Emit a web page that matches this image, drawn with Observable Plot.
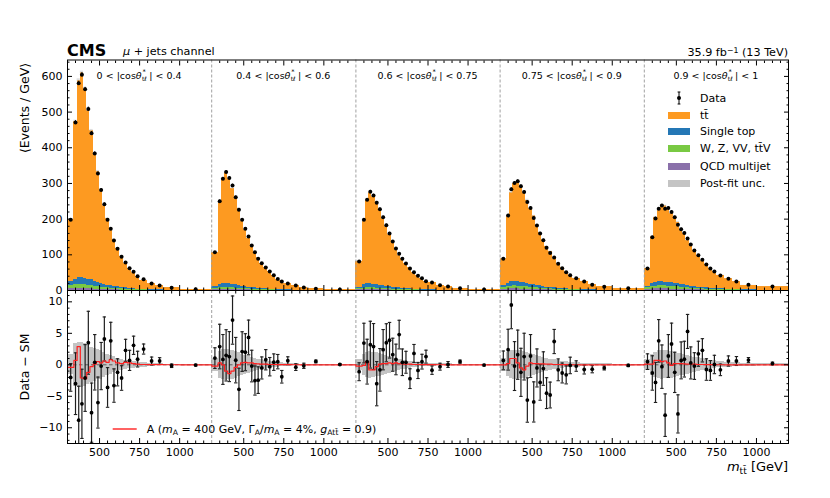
<!DOCTYPE html>
<html><head><meta charset="utf-8">
<script src="https://cdn.jsdelivr.net/npm/d3@7"></script>
<script src="https://cdn.jsdelivr.net/npm/@observablehq/plot@0.6"></script>
<style>
body{margin:0;background:#fff;}
#fig{position:relative;width:830px;height:498px;font-family:"DejaVu Sans",sans-serif;color:#000;overflow:hidden;}
#fig svg{position:absolute;left:0;}
.t{position:absolute;white-space:nowrap;line-height:1;}
.sb{font-size:0.7em;position:relative;top:0.3em;}
.sp{font-size:0.7em;position:relative;top:-0.45em;}
.st{position:relative;display:inline-block;width:0.8em;height:1em;vertical-align:top;}
.st .a{position:absolute;left:0.9px;top:-1.6px;font-size:6.6px;line-height:1;}
.st .b{position:absolute;left:0.3px;top:5.4px;font-size:6px;line-height:1;}
</style></head><body><div id="fig"></div>
<script>
// ---------- data (events / GeV), five |cos theta*| blocks, common m_tt binning ----------
const binEdges = [300,340,360,380,400,420,440,460,480,500,520,540,560,580,600,625,650,675,700,725,750,800,850,900,1000,1200];
const blockLabels = ["0 &lt; ", "0.4 &lt; ", "0.6 &lt; ", "0.75 &lt; ", "0.9 &lt; "];
const blockUpper = [" &lt; 0.4", " &lt; 0.6", " &lt; 0.75", " &lt; 0.9", " &lt; 1"];
const xTickValues = [500, 750, 1000];

const dataObs = [
 [198,471,581,605,564,509,441,384,328,282,242,198,173,140,117,94.5,78.5,62.5,52.4,40,31.7,19.6,14,7.6,3.6],
 [107,250,313,332,315,294,261,226,198,173,151,126,107,89,76.5,64.5,53,43,32.5,25,19.6,14,8.4,4.8,2.8],
 [81,198,254,277,266,246,228,205,183,160,137,118,103,89,76,62,51,41,34.5,26,22.4,15,11,6.5,2.8],
 [89,210,284,301,306,292,276,248,231,203,182,160,141,120,105,92.5,75,62.5,51,43,34.5,25,16,10.4,6.5],
 [62,149,202,229,238,229,231,220,205,184,172,161,146,129,112,99,86,73,62,53,42,33,25,16,11]
];
const ttbar = [
 [176,442,552.8,574.2,531.1,473.5,419.1,357.6,311.5,261.9,220.1,186.2,155.7,131.6,108.2,88,68.9,55.7,44.2,34.9,25.9,16.6,11.7,6.65,3.15],
 [95.4,230.6,292.7,311,295.2,269.8,244.8,216.1,183.7,160.1,137.2,117.9,102.3,85.2,71.7,59.1,49.4,39.3,29.3,24.6,17.3,13.1,7.7,3.7,2.5],
 [72.4,179.1,235.2,255.5,245.7,232.8,214,189.3,167.7,145.6,126.2,109,91.1,82.4,70.2,59.5,45.2,38.5,31.2,22.4,21.5,14,10,5.4,2.6],
 [74.8,186.6,249.5,275.4,279.2,269.5,252.8,233.6,211.5,192.7,168.2,150.1,130.5,114.8,101.4,81.6,69.6,58.6,48.3,39.4,31.9,23.6,15.2,9.9,6.2],
 [49,131.3,182.3,201,213.9,213.2,206.7,195,186,173.1,154.2,144.5,126.6,116.1,101,87.5,75.1,66.3,56.5,47.5,38.4,28.9,21.8,13.5,10]
];
const singleTop = [
 [11,16,20,20,19,17,16,14,12,11,9.5,8,7,6,5,4.3,3.6,3,2.5,2,1.6,1.1,0.8,0.5,0.2],
 [5,9,11,11,10.5,9.5,8.5,7.5,6.5,5.8,5,4.3,3.7,3.2,2.7,2.3,1.9,1.6,1.3,1.1,0.8,0.6,0.4,0.25,0.1],
 [4.5,8.5,10.5,10.5,10,9.2,8.3,7.4,6.5,5.8,5,4.4,3.8,3.3,2.8,2.4,2,1.7,1.4,1.15,0.9,0.65,0.45,0.28,0.12],
 [5.5,10,12.5,13,12.8,12,11,10,9,8,7,6.2,5.4,4.7,4,3.4,2.9,2.4,2,1.7,1.3,1,0.7,0.45,0.2],
 [4.5,8,10,11,11.2,11,10.6,10,9.3,8.6,7.9,7.2,6.5,5.8,5.1,4.5,3.9,3.4,2.9,2.5,2,1.6,1.2,0.8,0.4]
];
const ewk = [
 [8,10,11,11,10.5,10,9,8,7,6.3,5.6,5,4.4,3.9,3.4,2.9,2.5,2.1,1.8,1.5,1.2,0.9,0.6,0.4,0.2],
 [3.5,5,5.5,5.5,5.2,5,4.6,4.1,3.7,3.3,2.9,2.6,2.3,2,1.7,1.5,1.3,1.1,0.9,0.8,0.6,0.45,0.3,0.2,0.1],
 [3.2,4.5,5,5,4.8,4.6,4.3,3.9,3.5,3.1,2.8,2.5,2.2,1.9,1.7,1.5,1.3,1.1,0.9,0.8,0.6,0.45,0.32,0.2,0.1],
 [5,7,8,8.2,8,7.6,7.1,6.5,5.9,5.3,4.7,4.2,3.7,3.2,2.8,2.4,2.1,1.8,1.5,1.3,1,0.75,0.55,0.35,0.15],
 [5,7,8,8.5,8.5,8.3,8,7.6,7.1,6.6,6,5.5,5,4.5,4,3.5,3.1,2.7,2.3,2,1.6,1.3,1,0.65,0.3]
];
const qcd = [
 [5,6,6,6,5.5,5,4.5,4,3.5,3,2.7,2.4,2.1,1.8,1.6,1.4,1.2,1,0.8,0.7,0.5,0.4,0.3,0.2,0.1],
 [2,2.5,3,3,2.8,2.6,2.4,2.2,2,1.8,1.6,1.4,1.2,1,0.9,0.8,0.7,0.6,0.5,0.4,0.3,0.25,0.2,0.1,0.05],
 [2,2.5,2.8,2.8,2.6,2.4,2.2,2,1.8,1.6,1.4,1.3,1.1,1,0.9,0.8,0.7,0.6,0.5,0.4,0.3,0.25,0.2,0.1,0.05],
 [3,4,4.5,4.6,4.4,4.1,3.8,3.5,3.2,2.9,2.6,2.3,2,1.8,1.6,1.4,1.2,1,0.85,0.7,0.55,0.42,0.3,0.2,0.08],
 [3,4,4.5,4.7,4.7,4.5,4.3,4.1,3.8,3.5,3.2,2.9,2.6,2.3,2.1,1.8,1.6,1.4,1.2,1,0.8,0.6,0.45,0.3,0.15]
];
const dataMinusSM = [
 [-2.0,-3.0,-8.8,-6.2,-2.1,3.5,-7.6,0.4,-6.0,-0.2,4.1,-3.6,3.8,-3.3,-1.2,-2.1,2.3,0.7,3.1,0.9,2.5,0.6,0.6,-0.15,-0.05],
 [1.06,2.9,0.85,1.5,1.3,7.1,0.74,-3.9,2.1,2.0,4.35,-0.2,-2.5,-2.44,-0.5,0.8,-0.3,0.42,0.5,-1.9,0.64,-0.37,-0.16,0.53,0.05],
 [-1.1,3.45,0.5,3.2,2.9,-3.0,-0.8,2.4,3.5,3.9,1.6,0.85,4.8,0.4,0.4,-2.2,1.8,-0.9,0.5,1.3,-0.85,-0.3,0.05,0.5,-0.05],
 [0.7,2.4,9.5,-0.2,1.6,-1.2,1.3,-5.6,1.4,-5.9,-0.5,-2.8,-0.6,-4.5,-4.8,3.7,-0.8,-1.3,-1.6,-0.1,-0.2,-0.75,-0.7,-0.5,-0.1],
 [0.5,-1.3,-2.8,3.8,-0.3,-8.0,1.4,3.3,-1.2,-7.8,0.7,0.9,5.3,0.3,-0.2,1.75,2.3,-0.75,-0.9,0.05,-0.8,0.6,0.6,0.75,0.2]
];
const statErr = [
 [2.2,4.9,5.4,5.5,5.3,5.0,4.7,4.4,4.05,3.75,3.5,3.15,2.95,2.65,2.15,1.95,1.75,1.6,1.45,1.25,0.8,0.63,0.53,0.28,0.13],
 [1.64,3.54,3.96,4.07,3.97,3.83,3.61,3.36,3.15,2.94,2.75,2.51,2.31,2.11,1.75,1.61,1.46,1.31,1.14,1.0,0.63,0.53,0.41,0.22,0.12],
 [1.42,3.15,3.56,3.72,3.65,3.51,3.38,3.2,3.02,2.83,2.62,2.43,2.27,2.11,1.74,1.57,1.43,1.28,1.17,1.02,0.67,0.55,0.47,0.25,0.12],
 [1.49,3.24,3.77,3.88,3.91,3.82,3.71,3.52,3.4,3.19,3.02,2.83,2.66,2.45,2.05,1.92,1.73,1.58,1.43,1.31,0.83,0.71,0.57,0.32,0.18],
 [1.24,2.73,3.18,3.38,3.45,3.38,3.4,3.32,3.2,3.03,2.93,2.84,2.7,2.54,2.12,1.99,1.85,1.71,1.57,1.46,0.92,0.81,0.71,0.4,0.23]
];
const postFitUnc = [
 [1.6,3.4,3.6,3.6,3.4,3.1,2.8,2.6,2.4,2.3,2.0,1.7,1.5,1.3,1.05,0.9,0.75,0.65,0.55,0.45,0.35,0.25,0.18,0.1,0.05],
 [1.0,2.1,2.4,2.5,2.4,2.3,2.1,1.9,1.7,1.55,1.4,1.2,1.05,0.9,0.8,0.68,0.56,0.46,0.38,0.3,0.24,0.18,0.12,0.07,0.04],
 [0.9,1.7,2.0,2.1,2.0,1.9,1.8,1.65,1.5,1.35,1.2,1.05,0.92,0.8,0.7,0.58,0.48,0.4,0.34,0.27,0.23,0.17,0.13,0.08,0.04],
 [1.0,1.9,2.2,2.3,2.3,2.2,2.1,1.95,1.85,1.65,1.5,1.35,1.2,1.05,0.92,0.82,0.7,0.6,0.5,0.43,0.35,0.27,0.19,0.13,0.08],
 [0.9,1.7,2.0,2.2,2.3,2.2,2.2,2.1,2.0,1.85,1.75,1.65,1.5,1.35,1.2,1.08,0.95,0.82,0.72,0.62,0.5,0.4,0.32,0.2,0.13]
];
const signalA = [
 [-0.4,0.7,2.9,-2.1,-2.2,-1.2,-0.3,0.1,0.5,0.3,0.6,0.4,0.8,0.6,0.3,0.2,0.4,0.3,0.2,0.1,0.05,0.03,0.02,0.01,0],
 [-0.2,0.3,0.0,-1.0,-1.4,-1.0,-0.4,0.0,0.3,0.4,0.3,0.3,0.2,0.15,0.1,0.1,0.05,0.05,0.03,0.02,0.02,0.01,0,0,0],
 [-0.2,-0.1,0.5,-0.8,-0.8,-0.3,0.1,0.2,0.2,0.3,0.2,0.3,0.2,0.15,0.1,0.1,0.05,0.05,0.03,0.02,0.02,0.01,0,0,0],
 [0.0,0.2,1.0,1.0,0.3,-0.5,-0.8,-0.2,0.3,0.2,0.2,0.15,0.15,0.1,0.1,0.05,0.05,0.03,0.02,0.02,0.01,0,0,0,0],
 [0.1,0.1,0.7,0.7,0.5,0.6,0.3,-0.1,0.2,0.2,0.2,0.15,0.1,0.1,0.1,0.05,0.05,0.03,0.02,0.02,0.01,0,0,0,0]
];
const procNames = ["QCD multijet", "W, Z, VV, tt\u0304V", "Single top", "tt\u0304"];
const procColors = ["#8a70aa", "#79c943", "#2477b5", "#fd9a21"];

// ---------- build tables ----------
const span = 900; // each block spans 300..1200 GeV
const lo = binEdges[0];
const stackRows = [], bins = [], sigPts = [];
const comps = [qcd, ewk, singleTop, ttbar];
for (let b = 0; b < 5; b++) {
  for (let i = 0; i < binEdges.length - 1; i++) {
    const x1 = b * span + binEdges[i] - lo, x2 = b * span + binEdges[i + 1] - lo;
    let tot = 0;
    comps.forEach((arr, k) => { stackRows.push({x1, x2, proc: procNames[k], v: arr[b][i]}); tot += arr[b][i]; });
    bins.push({b, x1, x2, xc: (x1 + x2) / 2, data: dataObs[b][i], diff: dataMinusSM[b][i],
      err: statErr[b][i], unc: postFitUnc[b][i], tot});
    sigPts.push({x: x1, y: signalA[b][i]}, {x: x2, y: signalA[b][i]});
  }
}
const dividers = [1, 2, 3, 4].map(b => b * span);
const xMajor = [], xMinor = [];
for (let b = 0; b < 5; b++) {
  xTickValues.forEach(m => xMajor.push(b * span + m - lo));
  for (let m = 350; m <= 1150; m += 50) if (!xTickValues.includes(m)) xMinor.push(b * span + m - lo);
}
const fmtX = g => String(Math.round(g - Math.floor(g / span) * span + lo));
const fmtY = d => d < 0 ? "\u2212" + (-d) : String(d);
const capSymbol = {draw(ctx, size) { const w = Math.sqrt(size / Math.PI); ctx.moveTo(-w, 0); ctx.lineTo(w, 0); }};
const capPts = bins.flatMap(d => [{x: d.xc, y: d.diff - d.err}, {x: d.xc, y: d.diff + d.err}]);

function frameAxes(yMajor, yMinor, withXLabels) {
  const base = {label: null, tickFormat: () => ""};
  const m = [
    Plot.axisY({...base, anchor: "left", ticks: yMajor, tickSize: -5}),
    Plot.axisY({...base, anchor: "left", ticks: yMinor, tickSize: -2.5}),
    Plot.axisY({...base, anchor: "right", ticks: yMajor, tickSize: -5}),
    Plot.axisY({...base, anchor: "right", ticks: yMinor, tickSize: -2.5}),
    Plot.axisX({...base, anchor: "bottom", ticks: xMajor, tickSize: -5}),
    Plot.axisX({...base, anchor: "bottom", ticks: xMinor, tickSize: -2.5}),
    Plot.axisX({...base, anchor: "top", ticks: xMajor, tickSize: -5}),
    Plot.axisX({...base, anchor: "top", ticks: xMinor, tickSize: -2.5}),
    Plot.axisY({anchor: "left", ticks: yMajor, tickSize: 0, tickPadding: 5, tickFormat: fmtY, label: null, fontSize: 11})
  ];
  if (withXLabels) m.push(Plot.axisX({anchor: "bottom", ticks: xMajor, tickSize: 0, tickPadding: 5, tickFormat: fmtX, label: null, fontSize: 11}));
  return m;
}
const font = {fontFamily: "DejaVu Sans", fontSize: "11px", background: "transparent", overflow: "visible", color: "black"};

const upperMajor = d3.range(0, 601, 100), upperMinor = d3.range(20, 641, 20).filter(v => v % 100);
const upper = Plot.plot({
  width: 830, height: 291, marginLeft: 67, marginRight: 42, marginTop: 59.5, marginBottom: 1,
  style: font,
  x: {domain: [0, 5 * span], axis: null},
  y: {domain: [0, 646], axis: null, label: null},
  color: {domain: procNames, range: procColors},
  marks: [
    Plot.rectY(stackRows, {x1: "x1", x2: "x2", y: "v", fill: "proc", order: procNames, shapeRendering: "crispEdges"}),
    Plot.rect(bins, {x1: "x1", x2: "x2", y1: d => d.tot - d.unc, y2: d => d.tot + d.unc, fill: "#c8c8c8", fillOpacity: 0.6}),
    Plot.ruleX(dividers, {stroke: "#a0a0a0", strokeDasharray: "3,2", strokeWidth: 1}),
    Plot.ruleX(bins, {x: "xc", y1: d => d.data - d.err, y2: d => d.data + d.err, stroke: "black", strokeWidth: 1}),
    Plot.dot(bins, {x: "xc", y: "data", r: 2, fill: "black"}),
    ...frameAxes(upperMajor, upperMinor, false),
    Plot.frame({stroke: "black", strokeWidth: 1})
  ]
});
upper.style.top = "0px";

const lowerMajor = [-10, -5, 0, 5, 10], lowerMinor = d3.range(-12, 12, 1).filter(v => v % 5);
const lower = Plot.plot({
  width: 830, height: 208, marginLeft: 67, marginRight: 42, marginTop: 0, marginBottom: 55,
  style: font,
  x: {domain: [0, 5 * span], axis: null},
  y: {domain: [-12.5, 11.8], axis: null, label: null},
  marks: [
    Plot.rect(bins, {x1: "x1", x2: "x2", y1: d => -d.unc, y2: d => d.unc, fill: "#c4c4c4", shapeRendering: "crispEdges"}),
    Plot.ruleY([0], {stroke: "#555", strokeDasharray: "3.5,2.5", strokeWidth: 0.9}),
    Plot.ruleX(dividers, {stroke: "#a0a0a0", strokeDasharray: "3,2", strokeWidth: 1}),
    Plot.ruleX(bins, {x: "xc", y1: d => d.diff - d.err, y2: d => d.diff + d.err, stroke: "#1e1e1e", strokeWidth: 1.2, clip: true}),
    Plot.dot(capPts, {x: "x", y: "y", symbol: capSymbol, r: 1.7, stroke: "#1e1e1e", strokeWidth: 1.1, fill: "none", clip: true}),
    Plot.line(sigPts, {x: "x", y: "y", stroke: "#ff2020", strokeWidth: 1.2}),
    Plot.dot(bins, {x: "xc", y: "diff", r: 1.9, fill: "black", clip: true}),
    ...frameAxes(lowerMajor, lowerMinor, true),
    Plot.frame({stroke: "black", strokeWidth: 1})
  ]
});
lower.style.top = "290px";

const fig = document.getElementById("fig");
fig.appendChild(upper);
fig.appendChild(lower);

// ---------- text ----------
function place(html, o) {
  const d = document.createElement("div");
  d.className = "t";
  d.innerHTML = html;
  d.style.fontSize = o.size + "px";
  if (o.bold) d.style.fontWeight = "bold";
  d.style.top = (o.baseline - 0.846 * o.size) + "px";
  if (o.anchor === "end") d.style.right = (830 - o.x) + "px";
  else if (o.anchor === "middle") { d.style.left = o.x + "px"; d.style.transform = "translateX(-50%)"; }
  else d.style.left = o.x + "px";
  fig.appendChild(d);
  return d;
}
function vlabel(html, cx, cy, size) {
  const d = document.createElement("div");
  d.className = "t";
  d.innerHTML = html;
  d.style.fontSize = size + "px";
  d.style.left = cx + "px"; d.style.top = cy + "px";
  d.style.transform = "translate(-50%,-50%) rotate(-90deg)";
  fig.appendChild(d);
}
place("CMS", {x: 67, baseline: 56.5, size: 16, bold: true});
place("<i>\u03bc</i> + jets channel", {x: 123, baseline: 55.5, size: 11.2});
place("35.9 fb<span class='sp'>\u22121</span> (13 TeV)", {x: 788, baseline: 56.5, size: 11.2, anchor: "end"});

const xs = upper.scale("x");
for (let b = 0; b < 5; b++) {
  place(blockLabels[b] + "|cos<i>\u03b8</i><span class='st'><span class='a'>*</span><span class='b'>t\u2113</span></span>|" + blockUpper[b],
    {x: xs.apply(b * span + span / 2), baseline: 79, size: 9.5, anchor: "middle"});
}
vlabel("\u27e8Events / GeV\u27e9", 25, 107.5, 12.5);
vlabel("Data \u2212 SM", 24.5, 367, 12.5);
place("<i>m</i><span class='sb'>tt\u0304</span> [GeV]", {x: 788, baseline: 471, size: 13, anchor: "end"});

// legend (upper panel)
const legRows = [
  {label: "Data", y: 98.3},
  {label: "tt\u0304", y: 115, color: procColors[3]},
  {label: "Single top", y: 131.7, color: procColors[2]},
  {label: "W, Z, VV, tt\u0304V", y: 148.3, color: procColors[1]},
  {label: "QCD multijet", y: 166, color: procColors[0]},
  {label: "Post-fit unc.", y: 183.3, color: "#c4c4c4"}
];
legRows.forEach(r => {
  if (r.color) {
    const s = document.createElement("div");
    s.style.cssText = `position:absolute;left:667.7px;top:${r.y - 3.5}px;width:22.5px;height:7px;background:${r.color}`;
    fig.appendChild(s);
  } else {
    const s = document.createElementNS("http://www.w3.org/2000/svg", "svg");
    s.setAttribute("width", 10); s.setAttribute("height", 16);
    s.style.cssText = `position:absolute;left:674px;top:${r.y - 8}px`;
    s.innerHTML = `<line x1="5" x2="5" y1="2" y2="14" stroke="black" stroke-width="1"/><line x1="3.6" x2="6.4" y1="2" y2="2" stroke="black"/><line x1="3.6" x2="6.4" y1="14" y2="14" stroke="black"/><circle cx="5" cy="8" r="2" fill="black"/>`;
    fig.appendChild(s);
  }
  place(r.label, {x: 700, baseline: r.y + 4, size: 11});
});
// legend (lower panel)
const ln = document.createElementNS("http://www.w3.org/2000/svg", "svg");
ln.setAttribute("width", 30); ln.setAttribute("height", 6);
ln.style.cssText = "position:absolute;left:111px;top:426.3px";
ln.innerHTML = `<line x1="1.7" x2="25.7" y1="3" y2="3" stroke="#ff2020" stroke-width="1.4"/>`;
fig.appendChild(ln);
place("A (<i>m</i><span class='sb'>A</span> = 400 GeV, \u0393<span class='sb'>A</span>/<i>m</i><span class='sb'>A</span> = 4%, <i>g</i><span class='sb'>Att\u0304</span> = 0.9)",
  {x: 146.7, baseline: 433.3, size: 11});
</script>
</body></html>
